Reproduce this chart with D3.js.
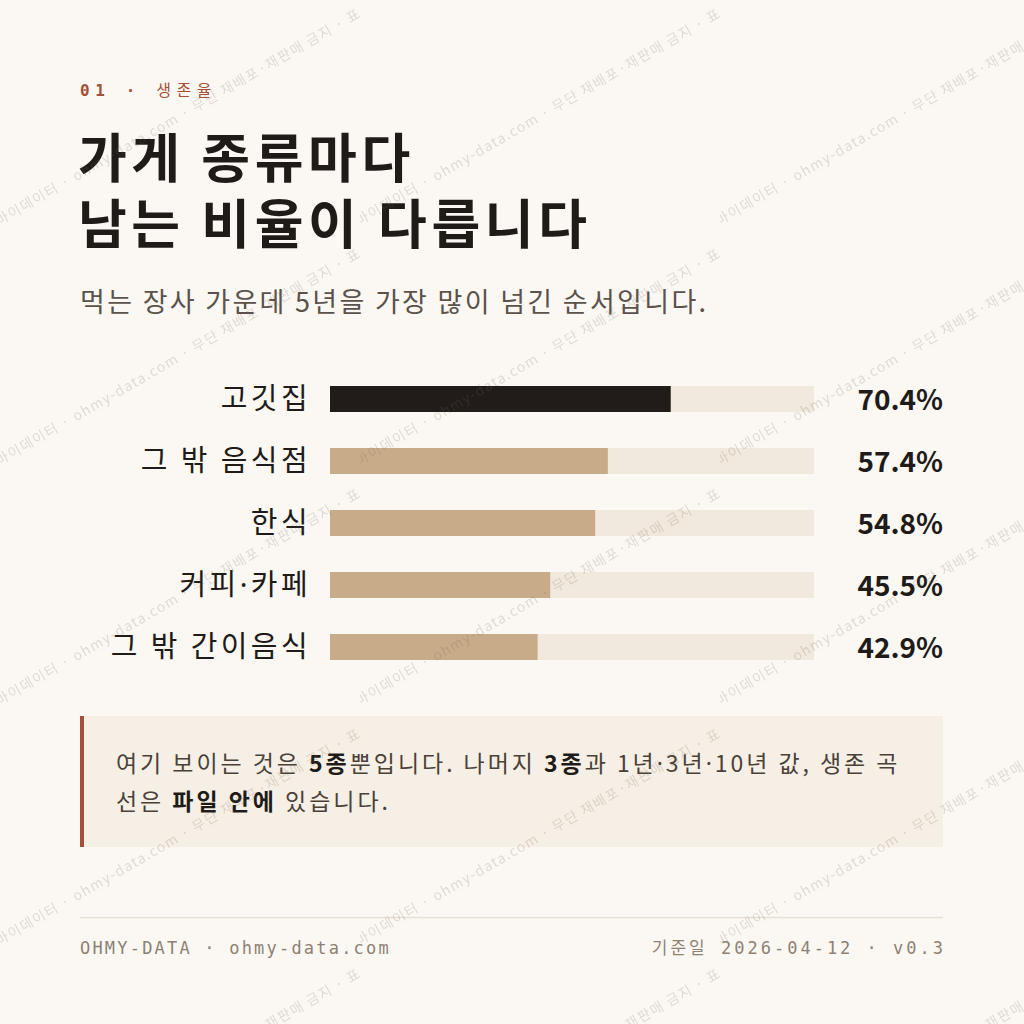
<!DOCTYPE html>
<html>
<head>
<meta charset="utf-8">
<script src="https://cdn.jsdelivr.net/npm/d3@7"></script>
<style>
  html, body { margin: 0; padding: 0; background: #fbf8f3; }
  svg { display: block; }
</style>
</head>
<body>
<svg id="chart" width="1024" height="1024"></svg>
<script>
// data
var categories = ['고깃집', '그 밖 음식점', '한식', '커피·카페', '그 밖 간이음식'];
var survival5y = [70.4, 57.4, 54.8, 45.5, 42.9];
var valueLabels = ['70.4%', '57.4%', '54.8%', '45.5%', '42.9%'];

var eyebrowNum = '01 · ';
var eyebrowText = '생존율';
var titleLines = ['가게 종류마다', '남는 비율이 다릅니다'];
var subtitle = '먹는 장사 가운데 5년을 가장 많이 넘긴 순서입니다.';
// note text, split in parts: [text, bold?]
var noteLine1 = [['여기 보이는 것은 ', false], ['5종', true], ['뿐입니다. 나머지 ', false], ['3종', true], ['과 1년·3년·10년 값, 생존 곡', false]];
var noteLine2 = [['선은 ', false], ['파일 안에', true], [' 있습니다.', false]];
var footLeft = 'OHMY-DATA · ohmy-data.com';
var footRight = '기준일 2026-04-12 · v0.3';
var watermark = '마이데이터 · ohmy-data.com · 무단 재배포·재판매 금지 · 표시 의무';

var KR = "'Noto Sans CJK KR', 'Noto Sans', sans-serif";
var MONO = "'DejaVu Sans Mono', 'Liberation Mono', 'Noto Sans CJK KR', monospace";

// narrow middle dot: the CJK font draws it full width
function dotSplit(sel, str){
    str.split(/(·)/).forEach(function(s){
        if (!s) return;
        var ts = sel.append('tspan').text(s);
        if (s === '·') ts.style('font-family', "'Noto Sans', sans-serif");
    });
}

var svg = d3.select('#chart');
svg.append('rect').attr('width', 1024).attr('height', 1024).attr('fill', '#fbf8f3');

// header
var eb = svg.append('text')
    .attr('x', 80).attr('y', 96)
    .style('font-family', MONO)
    .style('font-size', '16px')
    .style('letter-spacing', '5.6px')
    .attr('fill', '#a44f37');
eb.append('tspan').style('font-weight', 'bold').text(eyebrowNum);
eb.append('tspan').style('font-weight', 'normal').text(eyebrowText);

svg.selectAll('.title')
    .data(titleLines)
    .enter().append('text')
    .attr('class', 'title')
    .attr('x', 78)
    .attr('y', function(d, i){ return 178 + i * 66; })
    .style('font-family', KR)
    .style('font-size', '53px')
    .style('font-weight', 'bold')
    .style('letter-spacing', '4.6px')
    .attr('fill', '#1f1b18')
    .text(function(d){ return d; });

svg.append('text')
    .attr('x', 80).attr('y', 312)
    .style('font-family', KR)
    .style('font-size', '27px')
    .style('letter-spacing', '2.3px')
    .attr('fill', '#5a524b')
    .text(subtitle);

// bars
var x = d3.scaleLinear().domain([0, 100]).range([330, 814]);
var y = d3.scalePoint().domain(categories).range([399, 647]);
var barH = 26;

var rows = svg.selectAll('.row')
    .data(categories)
    .enter().append('g')
    .attr('class', 'row')
    .attr('transform', function(d){ return 'translate(0,' + y(d) + ')'; });

rows.append('rect')
    .attr('x', x(0))
    .attr('y', -barH / 2)
    .attr('width', x(100) - x(0))
    .attr('height', barH)
    .attr('fill', '#f1e9dd');

rows.append('rect')
    .attr('x', x(0))
    .attr('y', -barH / 2)
    .attr('width', function(d, i){ return x(survival5y[i]) - x(0); })
    .attr('height', barH)
    .attr('fill', function(d, i){ return i === 0 ? '#211c19' : '#c8ab89'; });

rows.append('text')
    .attr('x', 311)
    .attr('dy', '0.35em')
    .attr('text-anchor', 'end')
    .style('font-family', KR)
    .style('font-size', '29px')
    .style('letter-spacing', '3.4px')
    .attr('fill', '#1f1b18')
    .each(function(d){ dotSplit(d3.select(this), d); });

rows.append('text')
    .attr('x', 943)
    .attr('dy', '0.38em')
    .attr('text-anchor', 'end')
    .style('font-family', KR)
    .style('font-size', '28px')
    .style('font-weight', 'bold')
    .attr('fill', '#1f1b18')
    .text(function(d, i){ return valueLabels[i]; });

// note box
svg.append('rect')
    .attr('x', 80).attr('y', 716)
    .attr('width', 863).attr('height', 131)
    .attr('fill', '#f6efe5');
svg.append('rect')
    .attr('x', 80).attr('y', 716)
    .attr('width', 4).attr('height', 131)
    .attr('fill', '#a4503a');

[noteLine1, noteLine2].forEach(function(line, li){
    var t = svg.append('text')
        .attr('x', 116).attr('y', 772 + li * 38)
        .style('font-family', KR)
        .style('font-size', '23px')
        .style('letter-spacing', '2.95px')
        .attr('fill', '#4a4139');
    line.forEach(function(d){
        var ts = t.append('tspan')
            .style('font-weight', d[1] ? 'bold' : 'normal')
            .attr('fill', d[1] ? '#1f1b18' : '#4a4139');
        dotSplit(ts, d[0]);
    });
});

// footer
svg.append('line')
    .attr('x1', 80).attr('x2', 943)
    .attr('y1', 917.5).attr('y2', 917.5)
    .attr('stroke', '#e8e0d4')
    .attr('stroke-width', 1.5);

svg.append('text')
    .attr('x', 80).attr('y', 954)
    .style('font-family', MONO)
    .style('font-size', '17px')
    .style('letter-spacing', '2.2px')
    .attr('fill', '#8d8173')
    .text(footLeft);

svg.append('text')
    .attr('x', 946).attr('y', 954)
    .attr('text-anchor', 'end')
    .style('font-family', MONO)
    .style('font-size', '17px')
    .style('letter-spacing', '3px')
    .attr('fill', '#8d8173')
    .text(footRight);

// watermark pattern on top
var defs = svg.append('defs');
var pat = defs.append('pattern')
    .attr('id', 'wm')
    .attr('patternUnits', 'userSpaceOnUse')
    .attr('width', 360).attr('height', 240);
pat.append('text')
    .attr('transform', 'translate(-1,226) rotate(-30)')
    .style('font-family', KR)
    .style('font-size', '14px')
    .style('letter-spacing', '1.3px')
    .attr('fill', '#6e5e50')
    .attr('fill-opacity', 0.2)
    .text(watermark);
svg.append('rect')
    .attr('width', 1024).attr('height', 1024)
    .attr('fill', 'url(#wm)')
    .style('pointer-events', 'none');
</script>
</body>
</html>
